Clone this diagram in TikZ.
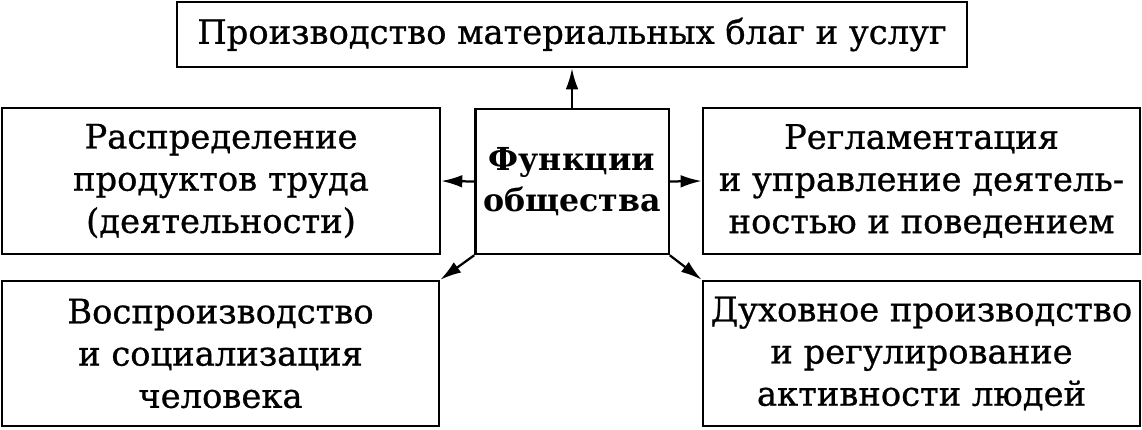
\documentclass[tikz,border=0pt]{standalone}
\usepackage{fontspec}
\setmainfont{DejaVu Serif}[UprightFeatures={FakeBold=0.8}]
\usetikzlibrary{arrows.meta}
\tikzset{
  box/.style={draw, line width=1.6pt, align=center, inner sep=0pt,
    font=\fontsize{24}{30}\selectfont},
  arr/.style={line width=1.6pt, -{Latex[length=15pt,width=9pt]}}
}
\begin{document}
\begin{tikzpicture}[x=0.025cm,y=-0.025cm]
  \useasboundingbox (0,0) rectangle (1142,429);
  \node[box, minimum width=19.73cm, minimum height=1.63cm] (prod) at (572,34.5)
    {Производство материальных благ и услуг};
  \node[box, minimum width=10.95cm, minimum height=3.65cm] (distr) at (221,181)
    {Распределение\\продуктов труда\\(деятельности)};
  \node[box, minimum width=4.83cm, minimum height=3.63cm, font=\fontsize{22.5}{29}\selectfont\bfseries] (func) at (572,181.5)
    {Функции\\общества};
  \node[box, minimum width=10.93cm, minimum height=3.65cm] (regl) at (921.5,181)
    {Регламентация\\и управление деятель-\\ностью и поведением};
  \node[box, minimum width=10.93cm, minimum height=3.63cm] (repro) at (220.5,353.5)
    {Воспроизводство\\и социализация\\человека};
  \node[box, minimum width=10.93cm, minimum height=3.63cm] (spirit) at (921.5,353.5)
    {Духовное производство\\и регулирование\\активности людей};
  \draw[arr] (func.north) -- (prod.south);
  \draw[arr] (func.west) -- (distr.east);
  \draw[arr] (func.east) -- (regl.west);
  \draw[arr] (func.south west) -- (repro.north east);
  \draw[arr] (func.south east) -- (spirit.north west);
\end{tikzpicture}
\end{document}
